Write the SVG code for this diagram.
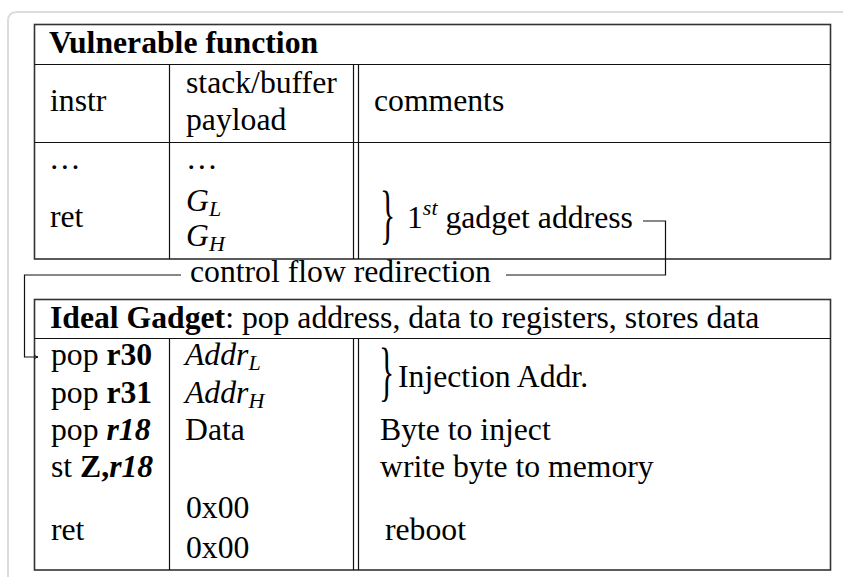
<svg xmlns="http://www.w3.org/2000/svg" width="843" height="577" viewBox="0 0 843 577">
<defs>
<style>
text{font-family:'Liberation Serif','Times New Roman',serif;font-size:31.7px;fill:#000}
.b{font-weight:bold}
.i{font-style:italic}
.sub{font-size:22px;font-style:italic}
.frame{fill:none;stroke:#dcdcdc;stroke-width:2}
.tbl{fill:#fff;stroke:#333;stroke-width:1.6}
.ln{stroke:#111;stroke-width:1.2;fill:none}
.conn{stroke:#111;stroke-width:1.2;fill:none}
</style>
<marker id="arr" markerWidth="6" markerHeight="6" refX="5" refY="3" orient="auto" markerUnits="userSpaceOnUse">
<path d="M1,0.5 Q2.5,2.5 5,3 Q2.5,3.5 1,5.5" fill="none" stroke="#111" stroke-width="1"/>
</marker>
</defs>
<rect width="843" height="577" fill="#fff"/>
<path class="frame" d="M8,577 V21 Q8,12 17,12 H843"/>

<g id="vulnerable-function">
<rect class="tbl" x="34.5" y="24.5" width="796" height="234.5"/>
<line class="ln" x1="34.5" y1="64.5" x2="830.5" y2="64.5"/>
<line class="ln" x1="34.5" y1="142.5" x2="830.5" y2="142.5"/>
<line class="ln" x1="169.5" y1="64.5" x2="169.5" y2="259"/>
<line class="ln" x1="353.5" y1="64.5" x2="353.5" y2="259"/>
<line class="ln" x1="358.5" y1="64.5" x2="358.5" y2="259"/>
<text class="b" x="49" y="53.3">Vulnerable function</text>
<text x="50" y="111">instr</text>
<text x="186" y="92.5">stack/buffer</text>
<text x="186" y="130">payload</text>
<text x="374" y="111">comments</text>
<text x="49" y="169">…</text>
<text x="186" y="169">…</text>
<text x="50" y="227">ret</text>
<text x="186" y="211"><tspan class="i">G</tspan><tspan class="sub" dy="5">L</tspan></text>
<text x="186" y="246"><tspan class="i">G</tspan><tspan class="sub" dy="5">H</tspan></text>
<text transform="matrix(1,0,0,2.07,380,236.4)" x="0" y="0">}</text>
<text x="407" y="228">1<tspan class="sub" dy="-13">st</tspan><tspan dy="13"> gadget address</tspan></text>
</g>

<g id="ideal-gadget">
<rect class="tbl" x="34.5" y="299.5" width="796" height="270.5"/>
<line class="ln" x1="34.5" y1="338.5" x2="830.5" y2="338.5"/>
<line class="ln" x1="169.5" y1="338.5" x2="169.5" y2="570"/>
<line class="ln" x1="353.5" y1="338.5" x2="353.5" y2="570"/>
<line class="ln" x1="358.5" y1="338.5" x2="358.5" y2="570"/>
<text x="50" y="328"><tspan class="b">Ideal Gadget</tspan>: pop address, data to registers, stores data</text>
<text x="51" y="365">pop <tspan class="b">r30</tspan></text>
<text x="51" y="403">pop <tspan class="b">r31</tspan></text>
<text x="51" y="440">pop <tspan class="b i">r18</tspan></text>
<text x="51" y="477">st <tspan class="b">Z,</tspan><tspan class="b i">r18</tspan></text>
<text x="51" y="540">ret</text>
<text x="185" y="365"><tspan class="i">Addr</tspan><tspan class="sub" dy="5">L</tspan></text>
<text x="185" y="403"><tspan class="i">Addr</tspan><tspan class="sub" dy="5">H</tspan></text>
<text x="185" y="440">Data</text>
<text x="186" y="518">0x00</text>
<text x="186" y="558">0x00</text>
<text transform="matrix(1,0,0,2.1,379,392.5)" x="0" y="0">}</text>
<text x="398" y="386.5">Injection Addr.</text>
<text x="380" y="440">Byte to inject</text>
<text x="380" y="477">write byte to memory</text>
<text x="385" y="540">reboot</text>
</g>

<g id="connectors">
<path class="conn" d="M643,221 H665.5 V275 H506"/>
<path class="conn" d="M181,275 H24.5 V357 H38" marker-end="url(#arr)"/>
<text x="190" y="282">control flow redirection</text>
</g>
</svg>
